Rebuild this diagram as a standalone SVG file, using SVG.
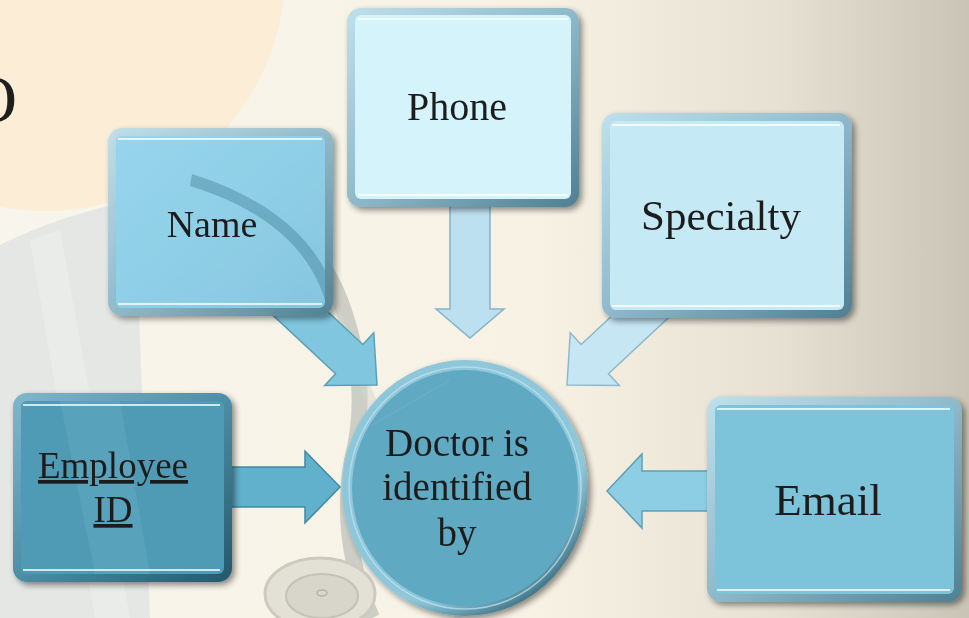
<svg xmlns="http://www.w3.org/2000/svg" width="969" height="618" viewBox="0 0 969 618">
  <defs>
    <linearGradient id="bg" x1="0" y1="0" x2="1" y2="0">
      <stop offset="0" stop-color="#f8f5ec"/>
      <stop offset="0.55" stop-color="#f7f2e4"/>
      <stop offset="0.8" stop-color="#e6e1d3"/>
      <stop offset="1" stop-color="#c9c4b6"/>
    </linearGradient>
    <linearGradient id="frame" x1="0" y1="0" x2="1" y2="1">
      <stop offset="0" stop-color="#bfe0ec"/>
      <stop offset="0.5" stop-color="#8fb9ca"/>
      <stop offset="1" stop-color="#4f7f92"/>
    </linearGradient>
    <linearGradient id="frameDark" x1="0" y1="0" x2="1" y2="1">
      <stop offset="0" stop-color="#7fb8cc"/>
      <stop offset="0.5" stop-color="#4d8ea6"/>
      <stop offset="1" stop-color="#23586c"/>
    </linearGradient>
    <radialGradient id="ringG" cx="0.35" cy="0.3" r="0.8">
      <stop offset="0.8" stop-color="#8fc7da"/>
      <stop offset="1" stop-color="#1f4f60"/>
    </radialGradient>
    <filter id="sh" x="-10%" y="-10%" width="125%" height="125%">
      <feGaussianBlur in="SourceAlpha" stdDeviation="3"/>
      <feOffset dx="3" dy="3"/>
      <feComponentTransfer><feFuncA type="linear" slope="0.45"/></feComponentTransfer>
      <feMerge><feMergeNode/><feMergeNode in="SourceGraphic"/></feMerge>
    </filter>
    <style>
      .lbl { font-family: "Liberation Serif", "Times New Roman", serif; fill: #1e1e1e; text-anchor: middle; }
      .hl { stroke: #ffffff; stroke-width: 2; stroke-opacity: 0.75; fill: none; }
      .arrow { stroke-width: 1.5; stroke-linejoin: miter; }
    </style>
  </defs>

  <!-- background -->
  <rect x="0" y="0" width="969" height="618" fill="url(#bg)"/>
  <circle cx="45" cy="-29" r="240" fill="#fbebd2" opacity="0.85"/>
  <path d="M0,245 Q60,215 135,200 L150,618 L0,618 Z" fill="#dfe4e2" opacity="0.8"/>
  <path d="M60,230 L130,618 L95,618 L30,240 Z" fill="#eef0ec" opacity="0.6"/>
  <path d="M185,172 Q305,210 340,300 Q372,385 352,460 Q338,540 372,618" fill="none" stroke="#8e9696" stroke-opacity="0.4" stroke-width="16"/>
  <path d="M330,300 L460,618" fill="none" stroke="#d8d6cc" stroke-width="10" opacity="0.5"/>
  <ellipse cx="320" cy="594" rx="55" ry="36" fill="#e3e0d6" stroke="#cdcac0" stroke-width="3"/>
  <ellipse cx="322" cy="596" rx="36" ry="22" fill="#d8d5cb" stroke="#c4c1b6" stroke-width="2"/>
  <ellipse cx="322" cy="593" rx="5" ry="3" fill="none" stroke="#b5b2a8" stroke-width="1.5"/>
  <text x="17" y="122" font-family="Liberation Serif, serif" font-size="68" fill="#1e1e1e" text-anchor="end">O</text>

  <!-- connectors -->
  <g id="connectors">
    <polygon class="arrow" transform="translate(377,385) rotate(43)" points="-125,-20 -38,-20 -38,-36 0,0 -38,36 -38,20 -125,20" fill="#7fc6de" stroke="#5d9fb6"/>
    <polygon class="arrow" transform="translate(567,385) rotate(137)" points="-125,-20 -38,-20 -38,-36 0,0 -38,36 -38,20 -125,20" fill="#c6e6f4" stroke="#8fb9cb"/>
    <polygon class="arrow" transform="translate(470,338) rotate(90)" points="-135,-20 -29,-20 -29,-34 0,0 -29,34 -29,20 -135,20" fill="#bde0f1" stroke="#86b3c7"/>
    <polygon class="arrow" transform="translate(340,487)" points="-112,-20 -35,-20 -35,-36 0,0 -35,36 -35,20 -112,20" fill="#62b1cc" stroke="#3f8aa4"/>
    <polygon class="arrow" transform="translate(607,491) rotate(180)" points="-104,-20 -35,-20 -35,-37 0,0 -35,37 -35,20 -104,20" fill="#8dcee4" stroke="#5f9fb6"/>
  </g>

  <!-- Phone -->
  <g id="phone" filter="url(#sh)">
    <rect x="347" y="8" width="232" height="199" rx="14" fill="url(#frame)"/>
    <rect x="355" y="15" width="216" height="184" rx="6" fill="#d5f3fa"/>
    <line class="hl" x1="358" y1="19" x2="568" y2="19"/>
    <line class="hl" x1="358" y1="195" x2="568" y2="195"/>
    <text class="lbl" x="457" y="120" font-size="40">Phone</text>
  </g>

  <!-- Name -->
  <g id="name" filter="url(#sh)">
    <rect x="108" y="128" width="225" height="188" rx="14" fill="url(#frame)" opacity="0.92"/>
    <rect x="116" y="136" width="209" height="172" rx="6" fill="#8fd4ee" opacity="0.82"/>
    <path d="M192,174 Q290,205 325,270 L325,300 Q300,220 190,186 Z" fill="#3b7a92" opacity="0.4"/>
    <line class="hl" x1="118" y1="139" x2="322" y2="139"/>
    <line class="hl" x1="118" y1="304" x2="322" y2="304"/>
    <text class="lbl" x="212" y="237" font-size="38">Name</text>
  </g>

  <!-- Specialty -->
  <g id="specialty" filter="url(#sh)">
    <rect x="602" y="113" width="250" height="205" rx="14" fill="url(#frame)"/>
    <rect x="610" y="121" width="234" height="189" rx="6" fill="#c6e9f6"/>
    <line class="hl" x1="612" y1="125" x2="840" y2="125"/>
    <line class="hl" x1="612" y1="306" x2="840" y2="306"/>
    <text class="lbl" x="721" y="230" font-size="43">Specialty</text>
  </g>

  <!-- Employee ID -->
  <g id="employee-id" filter="url(#sh)">
    <rect x="13" y="393" width="219" height="189" rx="14" fill="url(#frameDark)"/>
    <rect x="21" y="401" width="203" height="173" rx="6" fill="#4f9bb6"/>
    <path d="M60,401 L120,401 L150,574 L95,574 Z" fill="#6eb0c7" opacity="0.35"/>
    <line class="hl" x1="23" y1="405" x2="220" y2="405"/>
    <line class="hl" x1="23" y1="570" x2="220" y2="570"/>
    <text class="lbl" x="113" y="478" font-size="37" text-decoration="underline">Employee</text>
    <text class="lbl" x="113" y="522" font-size="37" text-decoration="underline">ID</text>
  </g>

  <!-- Email -->
  <g id="email" filter="url(#sh)">
    <rect x="707" y="397" width="255" height="205" rx="14" fill="url(#frame)"/>
    <rect x="715" y="405" width="239" height="189" rx="6" fill="#7dc3da"/>
    <line class="hl" x1="717" y1="409" x2="950" y2="409"/>
    <line class="hl" x1="717" y1="590" x2="950" y2="590"/>
    <text class="lbl" x="828" y="515" font-size="45">Email</text>
  </g>

  <!-- Doctor -->
  <g id="doctor" filter="url(#sh)">
    <ellipse cx="465" cy="488" rx="123" ry="128" fill="url(#ringG)"/>
    <ellipse cx="465" cy="488" rx="113" ry="118" fill="#5ea9c3"/>
    <ellipse cx="465" cy="488" rx="116" ry="121" fill="none" stroke="#bfe6f2" stroke-width="1.5" opacity="0.7"/>
    <path d="M372,425 L450,380" stroke="#7ab6ca" stroke-width="1" fill="none" opacity="0.6"/>
    <text class="lbl" x="457" y="456" font-size="39">Doctor is</text>
    <text class="lbl" x="457" y="500" font-size="39">identified</text>
    <text class="lbl" x="457" y="546" font-size="39">by</text>
  </g>
</svg>
